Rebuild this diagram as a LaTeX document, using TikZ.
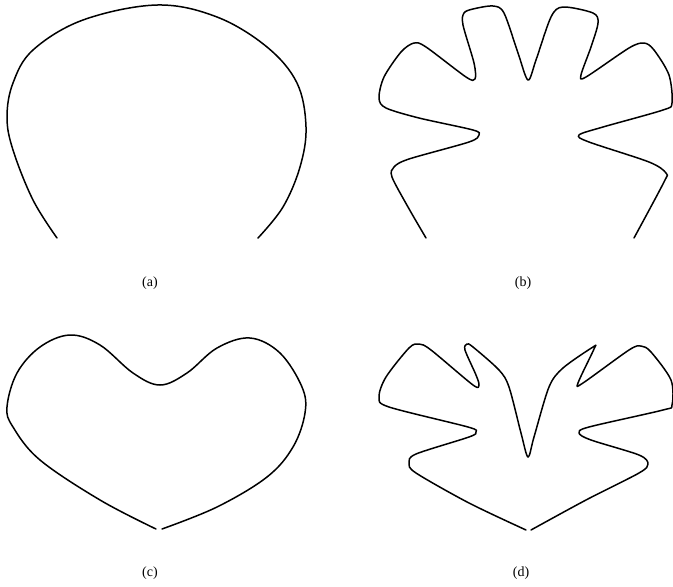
\documentclass[tikz,border=0pt]{standalone}
\usepackage{fontspec}
\setmainfont{Liberation Serif}
\usepackage{tikz}
\tikzset{
outline/.style={
  line width=1.5pt,
  line join=round,
  line cap=round
  },
caption/.style={
  font=\fontsize{14}{16}\selectfont,
  inner sep=1pt
  }
}

\begin{document}
\begin{tikzpicture}[x=1pt,y=-1pt]
\useasboundingbox (0,0) rectangle (673,587);

% (a) plain arch
\draw[outline] plot[smooth,tension=0.6] coordinates {
(57,238) (33,200) (13,150) (7,117) (13,83) (33,50) (83,20) (157,5)
(217,17) (267,47) (297,83) (306,127) (300,167) (283,207) (258,238)};

% (b) arch with lobes
\draw[outline] plot[smooth,tension=0.5] coordinates {
(426,238) (408,207) (392,177) (394,167) (409,159) (469,142) (479,135)
(473,130) (419,118) (386,108) (379,98) (384,77) (401,52) (414,43)
(426,47) (466,77) (475,79) (474,63) (463,25) (464,13) (473,9) (493,6)
(504,13) (518,53) (528,80) (536,60) (551,17) (563,7) (593,13) (598,23)
(591,47) (581,75) (586,77) (629,48) (644,43) (654,50) (669,75) (672,103)
(663,110) (603,127) (579,135) (589,142) (649,162) (666,173) (664,182)
(634,238)};

% (c) plain heart
\draw[outline] plot[smooth,tension=0.6] coordinates {
(156,529) (100,500) (40,460) (13,427) (7,407) (17,373) (40,347)
(70,335) (100,345) (133,373) (160,385) (187,373) (217,348) (250,338)
(280,353) (302,387) (305,413) (293,447) (267,477) (217,507) (162,529)};

% (d) heart with lobes
\draw[outline] plot[smooth,tension=0.5] coordinates {
(526,530) (469,503) (416,473) (409,463) (416,454) (469,437) (476,432)
(468,427) (389,407) (379,397) (386,377) (409,348) (419,344) (431,350)
(473,385) (479,385) (476,375) (465,350) (467,344) (473,347) (499,370)
(509,387) (521,433) (528,457) (534,437) (549,387) (563,368) (593,347)
(594,349) (578,383) (583,383) (629,350) (641,346) (651,352) (671,380)
(672,405) (663,410) (589,427) (579,433) (591,440) (639,455) (648,464)
(639,473) (586,500) (531,530)};

\node[caption] (capa) at (150,283) {(a)};
\node[caption] (capb) at (523,283) {(b)};
\node[caption] (capc) at (150,573) {(c)};
\node[caption] (capd) at (521,573) {(d)};
\end{tikzpicture}
\end{document}
